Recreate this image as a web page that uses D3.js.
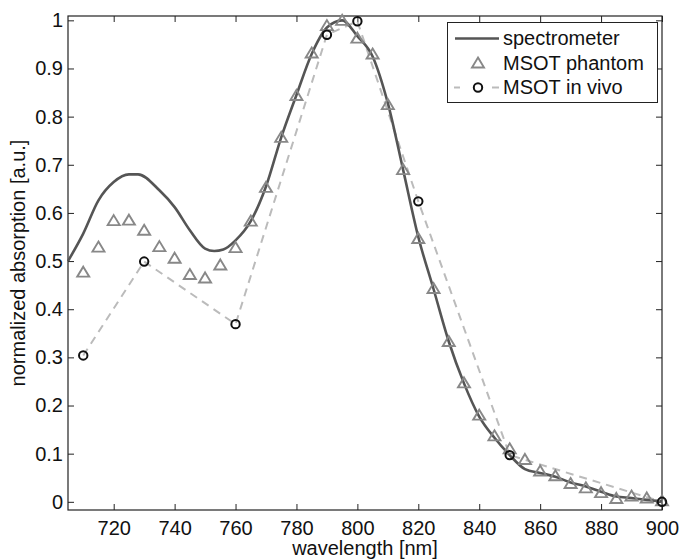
<!DOCTYPE html>
<html lang="en">
<head>
    <meta charset="UTF-8">
    <title>normalized absorption</title>
    <script src="https://cdn.jsdelivr.net/npm/d3@7"></script>
    <style>
        body { margin: 0; background: #fff; }
        svg { display: block; font-family: "Liberation Sans", Arial, Helvetica, sans-serif; }
        .axis line { stroke: #222; stroke-width: 1; }
    </style>
</head>
<body>
    <script>
        // spectrometer curve
        let specNm = [705, 710, 715, 720, 725, 728, 735, 740, 745, 750, 753, 756, 760, 765, 770, 775, 780, 785, 790, 795, 800, 805, 810, 815, 820, 825, 830, 835, 840, 845, 850, 855, 860, 865, 870, 875, 880, 885, 890, 895, 900];
        let specVal = [0.50, 0.557, 0.626, 0.664, 0.680, 0.680, 0.647, 0.612, 0.564, 0.526, 0.521, 0.524, 0.543, 0.583, 0.655, 0.757, 0.845, 0.930, 0.985, 1.0, 0.967, 0.925, 0.828, 0.690, 0.550, 0.442, 0.333, 0.246, 0.177, 0.133, 0.097, 0.068, 0.060, 0.052, 0.040, 0.032, 0.021, 0.011, 0.008, 0.004, 0.001];

        // MSOT phantom (triangles)
        let phantomNm = [710, 715, 720, 725, 730, 735, 740, 745, 750, 755, 760, 765, 770, 775, 780, 785, 790, 795, 800, 805, 810, 815, 820, 825, 830, 835, 840, 845, 850, 855, 860, 865, 870, 875, 880, 885, 890, 895, 900];
        let phantomVal = [0.477, 0.529, 0.584, 0.585, 0.564, 0.530, 0.506, 0.472, 0.465, 0.492, 0.528, 0.583, 0.653, 0.757, 0.844, 0.932, 0.989, 1.0, 0.963, 0.930, 0.825, 0.690, 0.547, 0.443, 0.333, 0.247, 0.180, 0.137, 0.110, 0.088, 0.064, 0.054, 0.038, 0.029, 0.019, 0.007, 0.012, 0.008, 0.002];

        // MSOT in vivo (circles)
        let vivoNm = [710, 730, 760, 790, 800, 820, 850, 900];
        let vivoVal = [0.304, 0.499, 0.369, 0.970, 0.998, 0.624, 0.097, 0.0];

        let xTicks = [720, 740, 760, 780, 800, 820, 840, 860, 880, 900];
        let yTicks = [0, 0.1, 0.2, 0.3, 0.4, 0.5, 0.6, 0.7, 0.8, 0.9, 1];

        let width = 680, height = 560;
        let box = { left: 68, right: 662, top: 16, bottom: 510 };
        let font = "Liberation Sans, Arial, Helvetica, sans-serif";
        let fs = 20;

        let svg = d3.select("body").append("svg")
                    .attr("width", width)
                    .attr("height", height);

        let x = d3.scaleLinear().domain([705, 900]).range([box.left, box.right]);
        let y = d3.scaleLinear().domain([-0.017, 1.009]).range([box.bottom, box.top]);
        let fmt = d3.format(".1~f");

        /* 轴: ticks point inward on all four sides */
        function axis(gen, tx, ty) {
            svg.append("g").attr("class", "axis")
               .attr("transform", `translate(${tx}, ${ty})`)
               .call(gen)
               .call(g => g.select(".domain").remove())
               .attr("font-family", font)
               .attr("font-size", fs)
               .selectAll("text").attr("fill", "#111");
        }
        axis(d3.axisBottom(x).tickValues(xTicks).tickSize(-6).tickPadding(10.5), 0, box.bottom);
        axis(d3.axisTop(x).tickValues(xTicks).tickSize(-6).tickFormat(""), 0, box.top);
        axis(d3.axisLeft(y).tickValues(yTicks).tickSize(-6).tickPadding(5).tickFormat(fmt), box.left, 0);
        axis(d3.axisRight(y).tickValues(yTicks).tickSize(-6).tickFormat(""), box.right, 0);

        svg.append("rect")
           .attr("x", box.left).attr("y", box.top)
           .attr("width", box.right - box.left).attr("height", box.bottom - box.top)
           .attr("fill", "none").attr("stroke", "#222").attr("stroke-width", 1.2);

        /* axis labels */
        svg.append("text")
           .attr("x", (box.left + box.right) / 2).attr("y", 555)
           .attr("text-anchor", "middle").attr("font-size", fs).attr("fill", "#111")
           .text("wavelength [nm]");
        svg.append("text")
           .attr("transform", `translate(25, ${(box.top + box.bottom) / 2}) rotate(-90)`)
           .attr("text-anchor", "middle").attr("font-size", fs).attr("fill", "#111")
           .text("normalized absorption [a.u.]");

        let plot = svg.append("g");

        /* in vivo dashed line */
        let vivo = vivoNm.map((d, i) => [d, vivoVal[i]]);
        plot.append("path")
            .attr("d", d3.line().x(d => x(d[0])).y(d => y(d[1]))(vivo))
            .attr("fill", "none").attr("stroke", "#bbb").attr("stroke-width", 2)
            .attr("stroke-dasharray", "8,6");

        /* spectrometer */
        let spec = specNm.map((d, i) => [d, specVal[i]]);
        plot.append("path")
            .attr("d", d3.line().x(d => x(d[0])).y(d => y(d[1])).curve(d3.curveMonotoneX)(spec))
            .attr("fill", "none").attr("stroke", "#555").attr("stroke-width", 2.6);

        /* triangles */
        let tri = (cx, cy) => `M${cx},${cy - 5.5}L${cx + 6},${cy + 4.5}L${cx - 6},${cy + 4.5}Z`;
        plot.selectAll(".tri")
            .data(phantomNm)
            .enter().append("path")
            .attr("class", "tri")
            .attr("d", (d, i) => tri(x(d), y(phantomVal[i])))
            .attr("fill", "none").attr("stroke", "#888").attr("stroke-width", 1.9);

        /* circles */
        plot.selectAll(".dot")
            .data(vivoNm)
            .enter().append("circle")
            .attr("class", "dot")
            .attr("cx", d => x(d))
            .attr("cy", (d, i) => y(vivoVal[i]))
            .attr("r", 4.2)
            .attr("fill", "none").attr("stroke", "#111").attr("stroke-width", 2);

        /* legend */
        let lg = svg.append("g");
        lg.append("rect")
          .attr("x", 447.5).attr("y", 22.5).attr("width", 210).attr("height", 80)
          .attr("fill", "#fff").attr("stroke", "#222").attr("stroke-width", 1);
        let rows = [38.5, 63, 87.5];
        lg.append("line").attr("x1", 455).attr("x2", 499).attr("y1", rows[0]).attr("y2", rows[0])
          .attr("stroke", "#555").attr("stroke-width", 2.6);
        lg.append("path").attr("d", tri(478, rows[1]))
          .attr("fill", "none").attr("stroke", "#888").attr("stroke-width", 1.9);
        lg.append("line").attr("x1", 454).attr("x2", 499).attr("y1", rows[2]).attr("y2", rows[2])
          .attr("stroke", "#bbb").attr("stroke-width", 2).attr("stroke-dasharray", "6,32,7");
        lg.append("circle").attr("cx", 478).attr("cy", rows[2]).attr("r", 4.2)
          .attr("fill", "#fff").attr("stroke", "#111").attr("stroke-width", 2);
        lg.selectAll(".lt")
          .data(["spectrometer", "MSOT phantom", "MSOT in vivo"])
          .enter().append("text")
          .attr("x", 503).attr("y", (d, i) => rows[i] + 6.5)
          .attr("font-size", fs).attr("fill", "#111")
          .text(d => d);
    </script>
</body>
</html>
